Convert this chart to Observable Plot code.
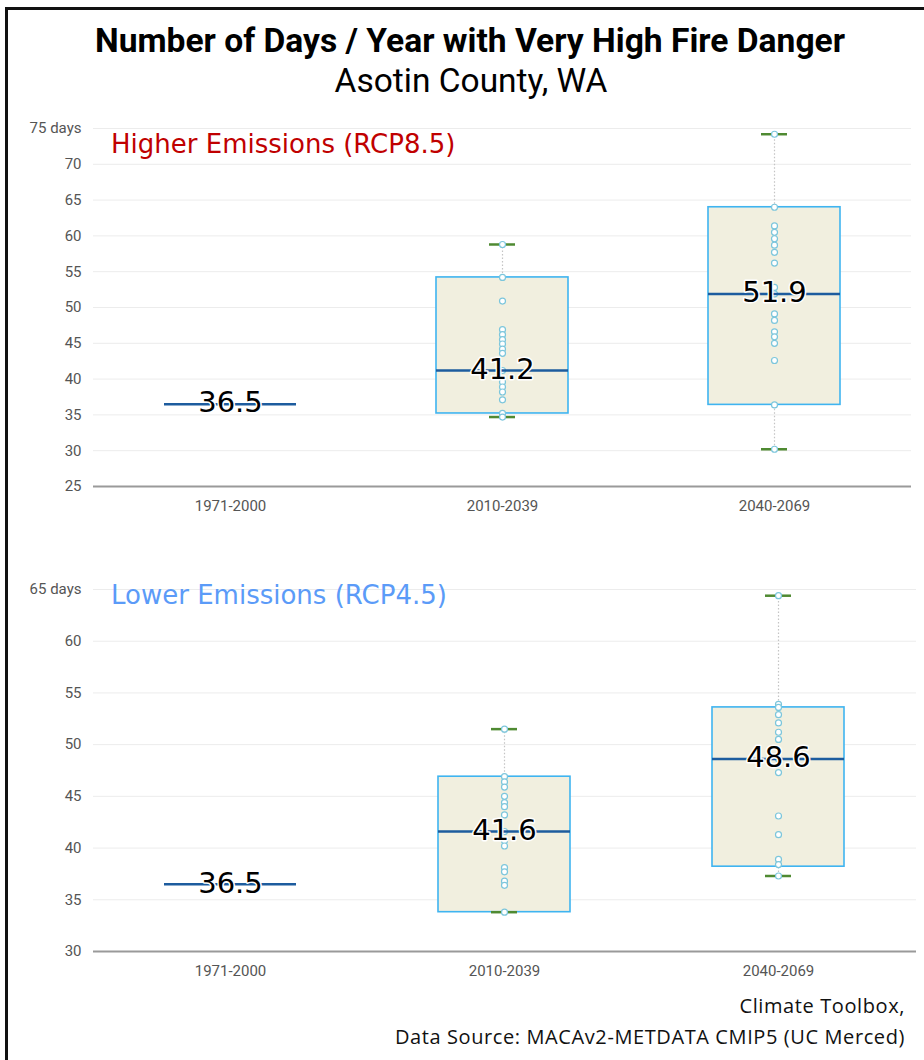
<!DOCTYPE html>
<html>
<head>
<meta charset="utf-8">
<script src="https://cdn.jsdelivr.net/npm/d3@7"></script>
<script src="https://cdn.jsdelivr.net/npm/@observablehq/plot@0.6"></script>
<style>
  html, body { margin: 0; padding: 0; background: #fff; }
  #page { position: relative; width: 924px; height: 1060px; overflow: hidden; background: #fff; }
  #frame { position: absolute; left: 5px; top: 7px; width: 1000px; height: 1100px;
           border-left: 3px solid #111; border-top: 3px solid #111; }
  .abs { position: absolute; white-space: nowrap; }
  #title { left: 0; width: 940px; top: 21px; text-align: center; font-family: Roboto, sans-serif;
           font-weight: 700; font-size: 33.6px; color: #000; }
  #subtitle { left: 0; width: 942px; top: 61px; text-align: center; font-family: Roboto, sans-serif;
           font-size: 33.5px; color: #000; }
  .scen { font-family: "DejaVu Sans", sans-serif; font-size: 26px; left: 111px; }
  #caption { right: 19px; top: 990px; text-align: right; font-family: "Open Sans", sans-serif;
           font-size: 20px; letter-spacing: 0.6px; line-height: 31px; color: #111; }
  .panel { position: absolute; left: 0; }
</style>
</head>
<body>
<div id="page">
  <div id="frame"></div>
  <div id="title" class="abs">Number of Days / Year with Very High Fire Danger</div>
  <div id="subtitle" class="abs">Asotin County, WA</div>
  <div id="top" class="panel" style="top:110px"></div>
  <div id="bottom" class="panel" style="top:570px"></div>
  <div class="abs scen" style="top:129px; color:#c00000">Higher Emissions (RCP8.5)</div>
  <div class="abs scen" style="top:580px; color:#5b9bf8">Lower Emissions (RCP4.5)</div>
  <div id="caption" class="abs">Climate Toolbox,<br>Data Source: MACAv2-METDATA CMIP5 (UC Merced)</div>
</div>
<script>
// ---- data ----
const periods = ["1971-2000", "2010-2039", "2040-2069"];

// Higher emissions (RCP8.5)
const rcp85Min    = [36.5, 34.7, 30.2];
const rcp85Q1     = [36.5, 35.2, 36.4];
const rcp85Median = [36.5, 41.2, 51.9];
const rcp85Q3     = [36.5, 54.2, 64.0];
const rcp85Max    = [36.5, 58.8, 74.2];
const rcp85Models2010 = [58.8, 54.2, 50.9, 46.9, 46.2, 45.5, 44.9, 44.2, 43.6, 41.2, 39.6, 38.9, 38.2, 37.1, 35.2, 34.7];
const rcp85Models2040 = [74.2, 64.0, 61.4, 60.5, 59.6, 58.7, 57.7, 56.2, 52.8, 51.9, 49.1, 48.2, 46.6, 45.9, 45.0, 42.6, 36.4, 30.2];

// Lower emissions (RCP4.5)
const rcp45Min    = [36.5, 33.8, 37.3];
const rcp45Q1     = [36.5, 33.8, 38.2];
const rcp45Median = [36.5, 41.6, 48.6];
const rcp45Q3     = [36.5, 46.9, 53.6];
const rcp45Max    = [36.5, 51.5, 64.4];
const rcp45Models2010 = [51.5, 46.9, 46.4, 45.9, 45.0, 44.4, 44.0, 43.2, 41.6, 40.7, 40.2, 38.1, 37.7, 36.8, 36.4, 33.8];
const rcp45Models2040 = [64.4, 53.9, 53.6, 52.9, 52.1, 51.2, 50.5, 48.6, 47.3, 43.1, 41.3, 38.9, 38.4, 37.3];

const yTicks85 = [25, 30, 35, 40, 45, 50, 55, 60, 65, 70, 75];
const yTicks45 = [30, 35, 40, 45, 50, 55, 60, 65];

// ---- build ----
function table(mins, q1s, meds, q3s, maxs) {
  return periods.map((p, i) => ({period: p, lo: mins[i], q1: q1s[i], med: meds[i], q3: q3s[i], hi: maxs[i]}));
}
function modelRows(m2010, m2040) {
  return [...m2010.map(v => ({period: periods[1], value: v})), ...m2040.map(v => ({period: periods[2], value: v}))];
}

function panel({boxes, models, ticks, height, marginTop, marginBottom, marginRight, paddingOuter, paddingInner}) {
  const withBox = boxes.filter(d => d.q3 > d.q1);
  const yMin = ticks[0], yMax = ticks[ticks.length - 1];
  return Plot.plot({
    width: 924,
    height,
    marginLeft: 93,
    marginRight,
    marginTop,
    marginBottom,
    style: {fontFamily: "Roboto, sans-serif", fontSize: "15px", background: "transparent", overflow: "visible"},
    x: {domain: periods, paddingInner, paddingOuter, label: null},
    y: {domain: [yMin, yMax], label: null},
    marks: [
      Plot.gridY(ticks.slice(1), {stroke: "#ececec", strokeOpacity: 1, strokeWidth: 1}),
      Plot.axisY({ticks, tickSize: 0, tickPadding: 12, fill: "#555", fontSize: 15,
                  tickFormat: d => d === yMax ? `${d} days` : `${d}`}),
      Plot.axisX({tickSize: 0, tickPadding: 14, fill: "#555", fontSize: 15}),
      Plot.ruleY([yMin], {stroke: "#9a9a9a", strokeWidth: 2}),
      Plot.ruleX(withBox, {x: "period", y1: "lo", y2: "hi", stroke: "#c4c4c4", strokeWidth: 1.2, strokeDasharray: "1.5,2"}),
      Plot.barY(withBox, {x: "period", y1: "q1", y2: "q3", fill: "#f1efdf", stroke: "#3fb4f0", strokeWidth: 1.6}),
      Plot.tickY(withBox, {x: "period", y: "lo", stroke: "#4f8a32", strokeWidth: 2.5, insetLeft: 53, insetRight: 53}),
      Plot.tickY(withBox, {x: "period", y: "hi", stroke: "#4f8a32", strokeWidth: 2.5, insetLeft: 53, insetRight: 53}),
      Plot.dot(models, {x: "period", y: "value", r: 3, stroke: "#7cc6dc", strokeWidth: 1.2, fill: "#ffffff"}),
      Plot.tickY(boxes, {x: "period", y: "med", stroke: "#1d5c9e", strokeWidth: 2.5}),
      Plot.text(boxes, {x: "period", y: "med", text: d => d.med.toFixed(1), fontSize: 29,
                        fontFamily: "'DejaVu Sans', sans-serif", fill: "#000",
                        stroke: "#fff", strokeWidth: 3, dy: -1})
    ]
  });
}

document.getElementById("top").append(panel({
  boxes: table(rcp85Min, rcp85Q1, rcp85Median, rcp85Q3, rcp85Max),
  models: modelRows(rcp85Models2010, rcp85Models2040),
  ticks: yTicks85, height: 420, marginTop: 18, marginBottom: 44,
  marginRight: 13, paddingInner: 0.515, paddingOuter: 0.257
}));
document.getElementById("bottom").append(panel({
  boxes: table(rcp45Min, rcp45Q1, rcp45Median, rcp45Q3, rcp45Max),
  models: modelRows(rcp45Models2010, rcp45Models2040),
  ticks: yTicks45, height: 420, marginTop: 19, marginBottom: 39,
  marginRight: 8, paddingInner: 0.517, paddingOuter: 0.26
}));
</script>
</body>
</html>
